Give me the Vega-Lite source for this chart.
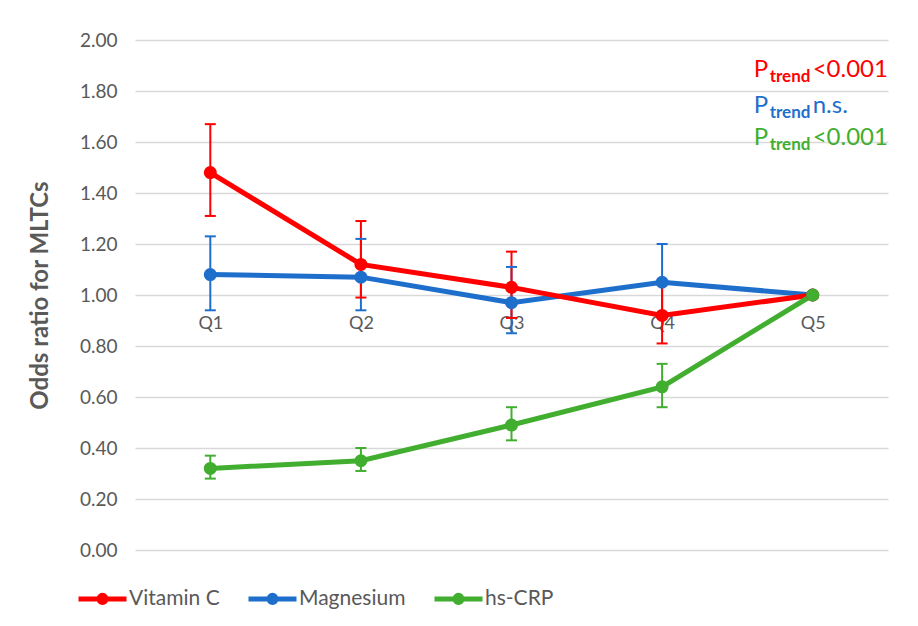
{
  "$schema": "https://vega.github.io/schema/vega-lite/v6.json",
  "width": 753,
  "height": 510,
  "autosize": {"type": "none"},
  "padding": {"left": 135, "top": 40, "right": 30, "bottom": 76},
  "background": "white",
  "config": {
    "view": {"stroke": null},
    "font": "Lato",
    "axis": {"labelFont": "Lato", "titleFont": "Lato"}
  },
  "datasets": {
    "or": [
      {"series": "Magnesium", "q": "Q1", "or": 1.08, "lo": 0.94, "hi": 1.23},
      {"series": "Magnesium", "q": "Q2", "or": 1.07, "lo": 0.94, "hi": 1.22},
      {"series": "Magnesium", "q": "Q3", "or": 0.97, "lo": 0.85, "hi": 1.11},
      {"series": "Magnesium", "q": "Q4", "or": 1.05, "lo": 0.92, "hi": 1.20},
      {"series": "Magnesium", "q": "Q5", "or": 1.00, "lo": null, "hi": null},
      {"series": "Vitamin C", "q": "Q1", "or": 1.48, "lo": 1.31, "hi": 1.67},
      {"series": "Vitamin C", "q": "Q2", "or": 1.12, "lo": 0.99, "hi": 1.29},
      {"series": "Vitamin C", "q": "Q3", "or": 1.03, "lo": 0.91, "hi": 1.17},
      {"series": "Vitamin C", "q": "Q4", "or": 0.92, "lo": 0.81, "hi": 1.05},
      {"series": "Vitamin C", "q": "Q5", "or": 1.00, "lo": null, "hi": null},
      {"series": "hs-CRP", "q": "Q1", "or": 0.32, "lo": 0.28, "hi": 0.37},
      {"series": "hs-CRP", "q": "Q2", "or": 0.35, "lo": 0.31, "hi": 0.40},
      {"series": "hs-CRP", "q": "Q3", "or": 0.49, "lo": 0.43, "hi": 0.56},
      {"series": "hs-CRP", "q": "Q4", "or": 0.64, "lo": 0.56, "hi": 0.73},
      {"series": "hs-CRP", "q": "Q5", "or": 1.00, "lo": null, "hi": null}
    ],
    "ann": [
      {"series": "Vitamin C", "p": "P", "sub": "trend", "rest": "<0.001", "y": 1.855},
      {"series": "Magnesium", "p": "P", "sub": "trend", "rest": "\u2004n.s.", "y": 1.715},
      {"series": "hs-CRP", "p": "P", "sub": "trend", "rest": "<0.001", "y": 1.588}
    ]
  },
  "encoding": {
    "x": {
      "field": "q",
      "type": "ordinal",
      "scale": {"type": "point", "domain": ["Q1", "Q2", "Q3", "Q4", "Q5"], "padding": 0.5},
      "axis": {
        "title": null,
        "offset": -255,
        "domain": false,
        "ticks": false,
        "labelAngle": 0,
        "labelFontSize": 18,
        "labelColor": "#595959",
        "labelPadding": 19,
        "labelBaseline": "top"
      }
    },
    "color": {
      "field": "series",
      "type": "nominal",
      "scale": {"domain": ["Vitamin C", "Magnesium", "hs-CRP"], "range": ["#FF0000", "#1E6FCB", "#41AE2F"]},
      "legend": {
        "orient": "none",
        "legendX": -59,
        "legendY": 532,
        "direction": "horizontal",
        "title": null,
        "symbolType": "M-1,0L1,0M0.15,0A0.15,0.15,0,1,1,-0.15,0A0.15,0.15,0,1,1,0.15,0",
        "symbolSize": 2304,
        "symbolStrokeWidth": 5,
        "labelFontSize": 21,
        "labelColor": "#595959",
        "labelFont": "Lato",
        "columnPadding": 18,
        "labelOffset": 0
      }
    }
  },
  "layer": [
    {
      "data": {"name": "or"},
      "mark": {"type": "line", "strokeWidth": 5},
      "encoding": {
        "y": {
          "field": "or",
          "type": "quantitative",
          "scale": {"domain": [0, 2], "nice": false},
          "axis": {
            "title": "Odds ratio for MLTCs",
            "titleFontSize": 24,
            "titleFontWeight": "bold",
            "titleColor": "#595959",
            "titlePadding": 27,
            "values": [0, 0.2, 0.4, 0.6, 0.8, 1.0, 1.2, 1.4, 1.6, 1.8, 2.0],
            "format": ".2f",
            "labelFontSize": 19,
            "labelColor": "#595959",
            "labelPadding": 18,
            "ticks": false,
            "domain": false,
            "gridColor": "#D9D9D9",
            "gridWidth": 1.5
          }
        }
      }
    },
    {
      "data": {"name": "or"},
      "transform": [{"filter": "datum.lo != null"}],
      "mark": {"type": "rule", "strokeWidth": 2},
      "encoding": {
        "y": {"field": "lo", "type": "quantitative"},
        "y2": {"field": "hi"}
      }
    },
    {
      "data": {"name": "or"},
      "transform": [{"filter": "datum.lo != null"}],
      "mark": {"type": "tick", "size": 11, "thickness": 2, "opacity": 1},
      "encoding": {"y": {"field": "lo", "type": "quantitative"}}
    },
    {
      "data": {"name": "or"},
      "transform": [{"filter": "datum.hi != null"}],
      "mark": {"type": "tick", "size": 11, "thickness": 2, "opacity": 1},
      "encoding": {"y": {"field": "hi", "type": "quantitative"}}
    },
    {
      "data": {"name": "or"},
      "mark": {"type": "point", "filled": true, "size": 170, "opacity": 1},
      "encoding": {"y": {"field": "or", "type": "quantitative"}}
    },
    {
      "data": {"name": "ann"},
      "mark": {"type": "text", "align": "left", "baseline": "alphabetic", "fontSize": 24, "dx": -59},
      "encoding": {
        "x": {"datum": "Q5"},
        "y": {"field": "y", "type": "quantitative"},
        "text": {"field": "p"}
      }
    },
    {
      "data": {"name": "ann"},
      "mark": {"type": "text", "align": "left", "baseline": "alphabetic", "fontSize": 17, "fontWeight": "bold", "dx": -43, "dy": 5},
      "encoding": {
        "x": {"datum": "Q5"},
        "y": {"field": "y", "type": "quantitative"},
        "text": {"field": "sub"}
      }
    },
    {
      "data": {"name": "ann"},
      "mark": {"type": "text", "align": "left", "baseline": "alphabetic", "fontSize": 24, "dx": 0},
      "encoding": {
        "x": {"datum": "Q5"},
        "y": {"field": "y", "type": "quantitative"},
        "text": {"field": "rest"}
      }
    }
  ]
}
